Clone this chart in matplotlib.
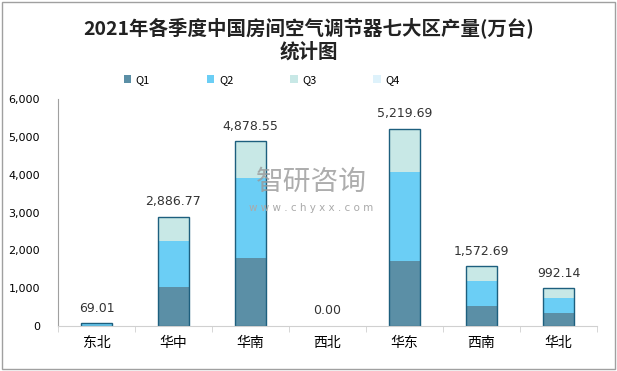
import matplotlib
matplotlib.use("Agg")
import matplotlib.pyplot as plt
import numpy as np

plt.rcParams['font.family'] = ['Noto Sans CJK SC', 'DejaVu Sans']

regions = ['东北', '华中', '华南', '西北', '华东', '西南', '华北']
q1 = [0, 1030, 1790, 0, 1718, 529, 344]
q2 = [60, 1215, 2130, 0, 2360, 660, 396]
q3 = [9.01, 641.77, 958.55, 0, 1141.69, 383.69, 252.14]
q4 = [0, 0, 0, 0, 0, 0, 0]
totals = [69.01, 2886.77, 4878.55, 0.00, 5219.69, 1572.69, 992.14]
series = {'Q1': q1, 'Q2': q2, 'Q3': q3, 'Q4': q4}
colors = {'Q1': '#5b8fa6', 'Q2': '#6bcef5', 'Q3': '#c8e8e6', 'Q4': '#def2fb'}

fig = plt.figure(figsize=(6.17, 3.71), dpi=100)
ax = fig.add_axes([58/617, 45/371, 539/617, 227/371])

x = np.arange(len(regions))
width = 0.4
bottom = np.zeros(len(regions))
for name, vals in series.items():
    vals = np.array(vals, dtype=float)
    ax.bar(x, vals, width, bottom=bottom, color=colors[name], label=name, linewidth=0)
    bottom += vals

# outline around whole stack
for xi, t in zip(x, totals):
    if t > 0:
        ax.bar(xi, t, width, fill=False, edgecolor='#1d5f7e', linewidth=1.0)
    ax.text(xi, t + 230, '{:,.2f}'.format(t), ha='center', va='bottom', fontsize=9, color='#333333',
            family=['DejaVu Sans'])

ax.set_xlim(-0.5, len(regions) - 0.5)
ax.set_ylim(0, 6000)
ax.set_yticks(np.arange(0, 6001, 1000))
ax.set_yticklabels(['{:,}'.format(v) for v in range(0, 6001, 1000)], fontsize=8, family=['DejaVu Sans'])
ax.set_xticks(x)
ax.set_xticklabels(regions, fontsize=10)
ax.set_xticks(np.arange(-0.5, len(regions), 1), minor=True)
ax.tick_params(axis='x', which='major', length=0, pad=7)
ax.tick_params(axis='x', which='minor', length=4, color='#d0d0d0', direction='out')
ax.tick_params(axis='y', length=0, pad=13)
for s in ['top', 'right']:
    ax.spines[s].set_visible(False)
ax.spines['left'].set_color('#a0a0a0')
ax.spines['bottom'].set_color('#d0d0d0')

# watermark
fig.text(0.505, 0.51, '智研咨询', ha='center', va='center', fontsize=20, color='#999999', alpha=0.8)
fig.text(0.505, 0.44, 'w w w . c h y x x . c o m', ha='center', va='center', fontsize=7.5, color='#aaaaaa',
         family=['DejaVu Sans'])

fig.text(0.5, 0.925, '2021年各季度中国房间空气调节器七大区产量(万台)', ha='center', va='center',
         fontsize=14, fontweight='bold', color='#222222')
fig.text(0.5, 0.86, '统计图', ha='center', va='center', fontsize=14, fontweight='bold', color='#222222')

leg = fig.legend(loc='center', bbox_to_anchor=(0.424, 0.785), ncol=4, frameon=False, fontsize=8,
                 handlelength=0.7, handleheight=0.7, columnspacing=5.1, handletextpad=0.4)

fig.patches.append(plt.Rectangle((0.003, 0.005), 0.994, 0.99, transform=fig.transFigure,
                                 fill=False, edgecolor='#a0a0a0', linewidth=1))

fig.savefig('out.png', dpi=100)
